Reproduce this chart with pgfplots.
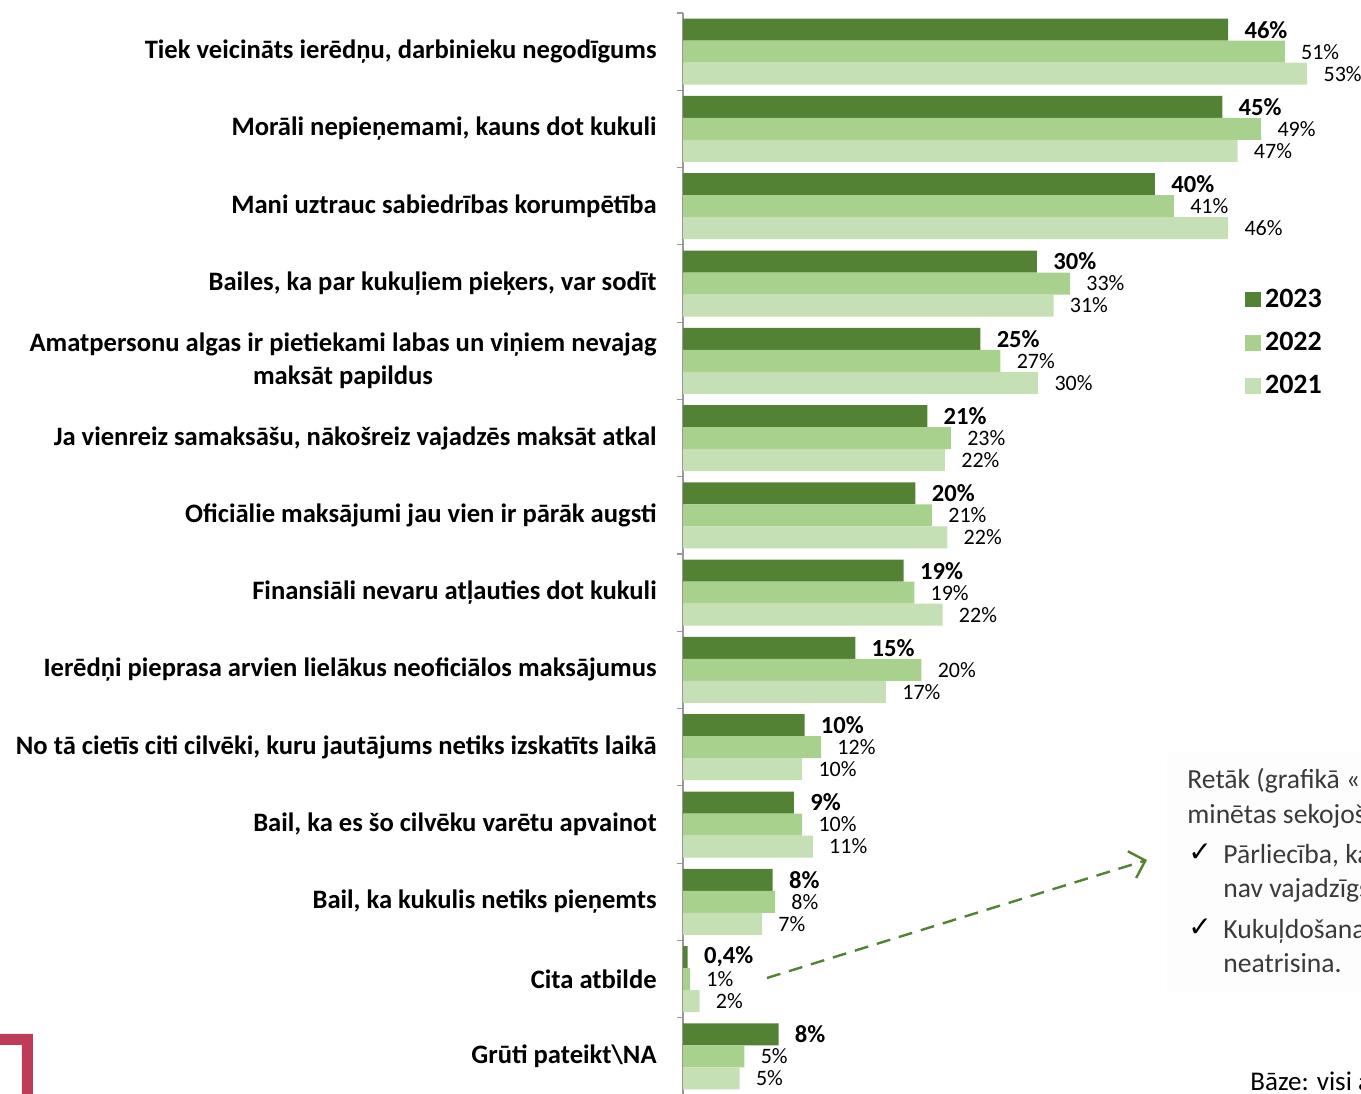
\documentclass[border=0pt]{standalone}
\usepackage{pgfplots}
\pgfplotsset{compat=1.18}
\usepackage{pgfplotstable}
\usepackage{fontspec}
\setmainfont{Carlito}
\newfontfamily\symfont{DejaVu Sans}
\usetikzlibrary{arrows.meta}
\definecolor{c23}{HTML}{548235}
\definecolor{c22}{HTML}{A9D18E}
\definecolor{c21}{HTML}{C5E0B4}
\definecolor{brand}{RGB}{190,60,88}
\definecolor{txt}{HTML}{3A3A3A}

% y: 13 = top category, 0 = bottom category
\pgfplotstableread{
y x lab
13 46.2 46
12 45.7 45
11 40.0 40
10 30.0 30
9 25.2 25
8 20.7 21
7 19.7 20
6 18.7 19
5 14.6 15
4 10.3 10
3 9.4 9
2 7.6 8
1 0.4 0,4
0 8.1 8
}\tabA
\pgfplotstableread{
y x lab
13 51.0 51
12 49.0 49
11 41.6 41
10 32.8 33
9 26.9 27
8 22.7 23
7 21.1 21
6 19.6 19
5 20.2 20
4 11.7 12
3 10.1 10
2 7.8 8
1 0.6 1
0 5.2 5
}\tabB
\pgfplotstableread{
y x lab
13 52.9 53
12 47.0 47
11 46.2 46
10 31.4 31
9 30.1 30
8 22.2 22
7 22.4 22
6 22.0 22
5 17.2 17
4 10.1 10
3 11.0 11
2 6.7 7
1 1.4 2
0 4.8 5
}\tabC

\begin{document}
\begin{tikzpicture}
\path[use as bounding box] (0,0) rectangle (680.5bp,-547bp);
\clip (0,0) rectangle (680.5bp,-547bp);
\begin{scope}[x=0.5bp,y=-0.5bp]
\fill[black!0.8] (1167,753) rectangle (1361,992);
\end{scope}
\begin{axis}[
  at={(341.5bp,-6.5bp)}, anchor=north west,
  scale only axis, width=339bp, height=541bp,
  xmin=0, xmax=57.46, ymin=-0.5, ymax=13.5,
  xbar, bar width=11bp,
  hide x axis,
  axis y line*=left,
  y axis line style={draw=black!40, line width=0.7bp, -},
  ytick={0,...,13},
  yticklabels={
    {Grūti pateikt\textbackslash NA},
    {Cita atbilde},
    {Bail, ka kukulis netiks pieņemts},
    {Bail, ka es šo cilvēku varētu apvainot},
    {No tā cietīs citi cilvēki, kuru jautājums netiks izskatīts laikā},
    {Ierēdņi pieprasa arvien lielākus neoficiālos maksājumus},
    {Finansiāli nevaru atļauties dot kukuli},
    {Oficiālie maksājumi jau vien ir pārāk augsti},
    {Ja vienreiz samaksāšu, nākošreiz vajadzēs maksāt atkal},
    {Amatpersonu algas ir pietiekami labas un viņiem nevajag\\maksāt papildus},
    {Bailes, ka par kukuļiem pieķers, var sodīt},
    {Mani uztrauc sabiedrības korumpētība},
    {Morāli nepieņemami, kauns dot kukuli},
    {Tiek veicināts ierēdņu, darbinieku negodīgums}},
  major tick length=0pt,
  minor ytick={-0.5,0.5,...,13.5},
  minor tick length=3bp,
  tick align=outside,
  y tick style={draw=black!40, line width=0.6bp},
  yticklabel style={font=\fontsize{13.3bp}{16.5bp}\selectfont\bfseries, align=center, inner sep=0pt, xshift=-13bp},
  clip=false,
  point meta=explicit symbolic,
  nodes near coords={\pgfplotspointmeta\%},
  nodes near coords style={anchor=west, inner sep=0pt, xshift=8bp, text=black, font=\fontsize{11bp}{13bp}\selectfont},
  legend style={at={(rel axis cs:0.829,0.749)}, anchor=north west, draw=none, fill=none,
    font=\fontsize{14bp}{16bp}\selectfont\bfseries, row sep=7bp, inner sep=0pt},
  legend cell align=left,
  legend image code/.code={\fill[#1] (0bp,-3.9bp) rectangle (7.8bp,3.9bp);},
]
\addplot[fill=c23, draw=none, bar shift=11bp,
  every node near coord/.append style={font=\fontsize{12.3bp}{14bp}\selectfont\bfseries}]
  table[x=x, y=y, meta=lab]{\tabA};
\addplot[fill=c22, draw=none, bar shift=0bp] table[x=x, y=y, meta=lab]{\tabB};
\addplot[fill=c21, draw=none, bar shift=-11bp] table[x=x, y=y, meta=lab]{\tabC};
\legend{2023,2022,2021}
\end{axis}
\begin{scope}[x=0.5bp,y=-0.5bp]
\draw[c23, line width=1.2bp, dash pattern=on 7bp off 4.5bp,
  -{Straight Barb[length=7bp,width=14bp,line width=1.2bp]}] (767,978) -- (1147,860);
\begin{scope}[every node/.style={anchor=base west, inner sep=0pt, text=txt, font=\fontsize{13.8bp}{17bp}\selectfont}]
\node at (1187,789) {Retāk (grafikā «Cita atbilde»)};
\node at (1187,824) {minētas sekojošas atbildes:};
\node at (1223,864) {Pārliecība, ka kukulis};
\node at (1223,898) {nav vajadzīgs;};
\node at (1223,939) {Kukuļdošana problēmu};
\node at (1223,973) {neatrisina.};
\node[text=black, font=\symfont\fontsize{14bp}{16bp}\selectfont] at (1188,862) {✓};
\node[text=black, font=\symfont\fontsize{14bp}{16bp}\selectfont] at (1188,937) {✓};
\node[text=black, font=\fontsize{13.5bp}{16bp}\selectfont] at (1250,1091) {Bāze: visi aptaujātie};
\end{scope}
\fill[brand] (0,1034) -- (33,1034) -- (33,1094) -- (22,1094) -- (22,1045) -- (0,1045) -- cycle;
\end{scope}
\end{tikzpicture}
\end{document}
